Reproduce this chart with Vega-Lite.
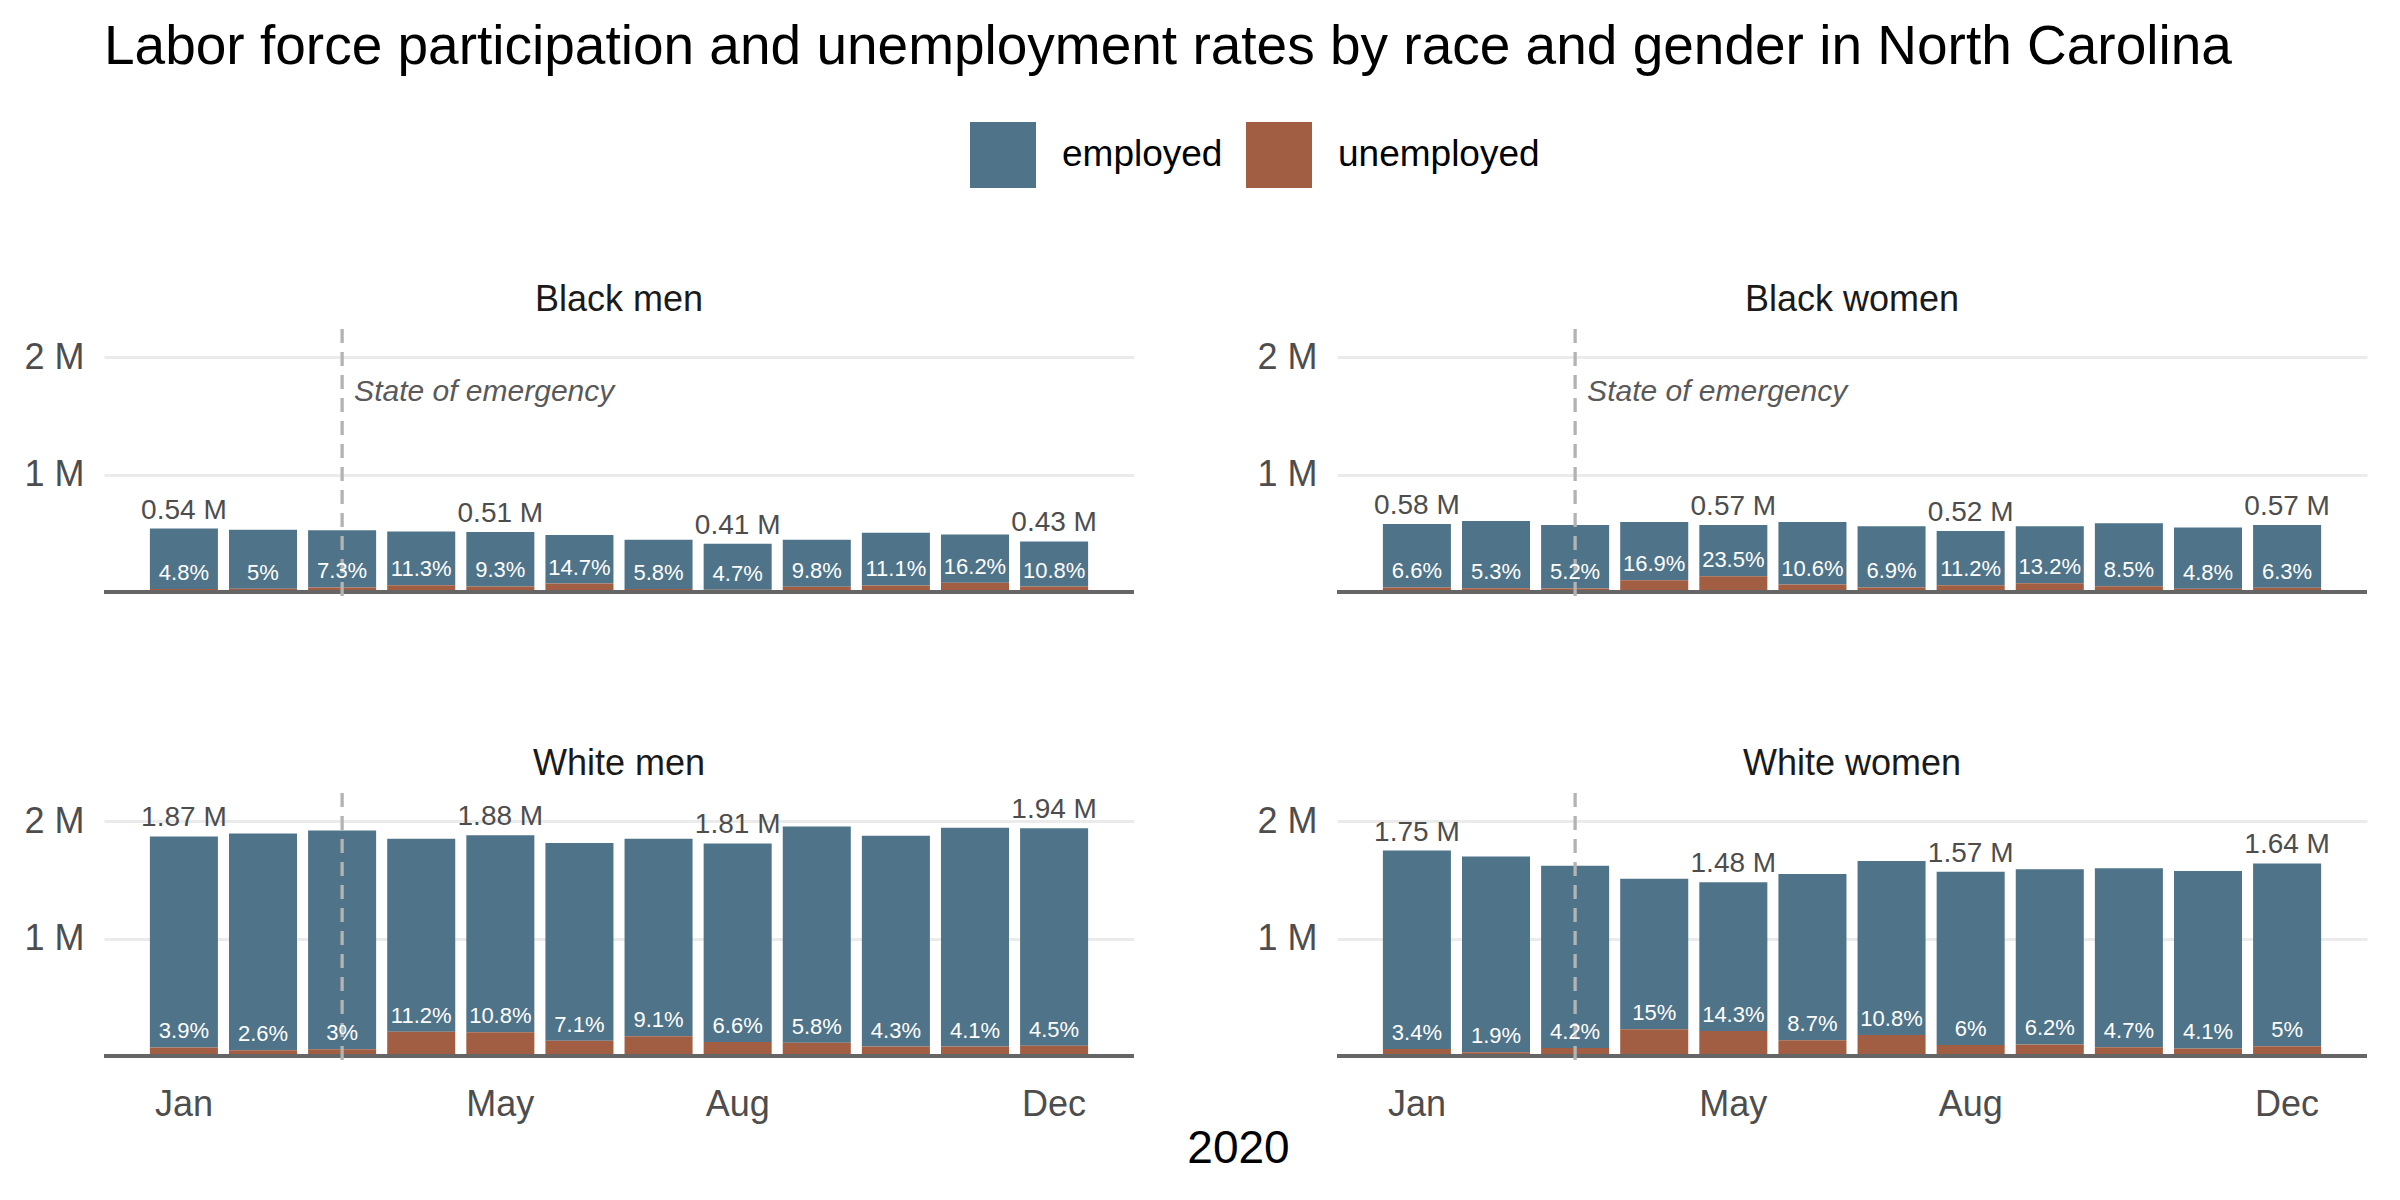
{
  "$schema": "https://vega.github.io/schema/vega-lite/v6.json",
  "background": "white",
  "padding": {"left": 23, "top": 20, "right": 20, "bottom": 10},
  "title": {
    "text": "Labor force participation and unemployment rates by race and gender in North Carolina",
    "anchor": "start",
    "frame": "group",
    "font": "Liberation Sans",
    "fontSize": 55,
    "fontWeight": "normal",
    "color": "black",
    "offset": 46
  },
  "config": {
    "view": {"stroke": null},
    "font": "Liberation Sans",
    "legend": {
      "orient": "none",
      "legendX": 866,
      "legendY": -207,
      "direction": "horizontal",
      "title": null,
      "symbolType": "square",
      "symbolSize": 4356,
      "symbolStrokeWidth": 0,
      "labelFontSize": 37,
      "labelColor": "black",
      "labelLimit": 0,
      "labelOffset": 26,
      "columnPadding": 23
    }
  },
  "datasets": {
    "labor": [
      {"group": "Black men", "month": "Jan", "employed": 0.5141, "unemployed": 0.0259, "total": 0.54, "rate": 0.048, "label": "0.54 M"},
      {"group": "Black men", "month": "Feb", "employed": 0.5035, "unemployed": 0.0265, "total": 0.53, "rate": 0.05},
      {"group": "Black men", "month": "Mar", "employed": 0.4867, "unemployed": 0.0383, "total": 0.525, "rate": 0.073},
      {"group": "Black men", "month": "Apr", "employed": 0.4568, "unemployed": 0.0582, "total": 0.515, "rate": 0.113},
      {"group": "Black men", "month": "May", "employed": 0.4626, "unemployed": 0.0474, "total": 0.51, "rate": 0.093, "label": "0.51 M"},
      {"group": "Black men", "month": "Jun", "employed": 0.4137, "unemployed": 0.0713, "total": 0.485, "rate": 0.147},
      {"group": "Black men", "month": "Jul", "employed": 0.4192, "unemployed": 0.0258, "total": 0.445, "rate": 0.058},
      {"group": "Black men", "month": "Aug", "employed": 0.3907, "unemployed": 0.0193, "total": 0.41, "rate": 0.047, "label": "0.41 M"},
      {"group": "Black men", "month": "Sep", "employed": 0.4014, "unemployed": 0.0436, "total": 0.445, "rate": 0.098},
      {"group": "Black men", "month": "Oct", "employed": 0.4489, "unemployed": 0.0561, "total": 0.505, "rate": 0.111},
      {"group": "Black men", "month": "Nov", "employed": 0.4106, "unemployed": 0.0794, "total": 0.49, "rate": 0.162},
      {"group": "Black men", "month": "Dec", "employed": 0.3836, "unemployed": 0.0464, "total": 0.43, "rate": 0.108, "label": "0.43 M"},
      {"group": "Black women", "month": "Jan", "employed": 0.5417, "unemployed": 0.0383, "total": 0.58, "rate": 0.066, "label": "0.58 M"},
      {"group": "Black women", "month": "Feb", "employed": 0.5729, "unemployed": 0.0321, "total": 0.605, "rate": 0.053},
      {"group": "Black women", "month": "Mar", "employed": 0.5404, "unemployed": 0.0296, "total": 0.57, "rate": 0.052},
      {"group": "Black women", "month": "Apr", "employed": 0.4944, "unemployed": 0.1006, "total": 0.595, "rate": 0.169},
      {"group": "Black women", "month": "May", "employed": 0.436, "unemployed": 0.134, "total": 0.57, "rate": 0.235, "label": "0.57 M"},
      {"group": "Black women", "month": "Jun", "employed": 0.5319, "unemployed": 0.0631, "total": 0.595, "rate": 0.106},
      {"group": "Black women", "month": "Jul", "employed": 0.5214, "unemployed": 0.0386, "total": 0.56, "rate": 0.069},
      {"group": "Black women", "month": "Aug", "employed": 0.4618, "unemployed": 0.0582, "total": 0.52, "rate": 0.112, "label": "0.52 M"},
      {"group": "Black women", "month": "Sep", "employed": 0.4861, "unemployed": 0.0739, "total": 0.56, "rate": 0.132},
      {"group": "Black women", "month": "Oct", "employed": 0.5353, "unemployed": 0.0497, "total": 0.585, "rate": 0.085},
      {"group": "Black women", "month": "Nov", "employed": 0.5236, "unemployed": 0.0264, "total": 0.55, "rate": 0.048},
      {"group": "Black women", "month": "Dec", "employed": 0.5341, "unemployed": 0.0359, "total": 0.57, "rate": 0.063, "label": "0.57 M"},
      {"group": "White men", "month": "Jan", "employed": 1.7971, "unemployed": 0.0729, "total": 1.87, "rate": 0.039, "label": "1.87 M"},
      {"group": "White men", "month": "Feb", "employed": 1.8457, "unemployed": 0.0493, "total": 1.895, "rate": 0.026},
      {"group": "White men", "month": "Mar", "employed": 1.8624, "unemployed": 0.0576, "total": 1.92, "rate": 0.03},
      {"group": "White men", "month": "Apr", "employed": 1.6428, "unemployed": 0.2072, "total": 1.85, "rate": 0.112},
      {"group": "White men", "month": "May", "employed": 1.677, "unemployed": 0.203, "total": 1.88, "rate": 0.108, "label": "1.88 M"},
      {"group": "White men", "month": "Jun", "employed": 1.6861, "unemployed": 0.1289, "total": 1.815, "rate": 0.071},
      {"group": "White men", "month": "Jul", "employed": 1.6816, "unemployed": 0.1684, "total": 1.85, "rate": 0.091},
      {"group": "White men", "month": "Aug", "employed": 1.6905, "unemployed": 0.1195, "total": 1.81, "rate": 0.066, "label": "1.81 M"},
      {"group": "White men", "month": "Sep", "employed": 1.8416, "unemployed": 0.1134, "total": 1.955, "rate": 0.058},
      {"group": "White men", "month": "Oct", "employed": 1.7944, "unemployed": 0.0806, "total": 1.875, "rate": 0.043},
      {"group": "White men", "month": "Nov", "employed": 1.8653, "unemployed": 0.0797, "total": 1.945, "rate": 0.041},
      {"group": "White men", "month": "Dec", "employed": 1.8527, "unemployed": 0.0873, "total": 1.94, "rate": 0.045, "label": "1.94 M"},
      {"group": "White women", "month": "Jan", "employed": 1.6905, "unemployed": 0.0595, "total": 1.75, "rate": 0.034, "label": "1.75 M"},
      {"group": "White women", "month": "Feb", "employed": 1.6677, "unemployed": 0.0323, "total": 1.7, "rate": 0.019},
      {"group": "White women", "month": "Mar", "employed": 1.552, "unemployed": 0.068, "total": 1.62, "rate": 0.042},
      {"group": "White women", "month": "Apr", "employed": 1.2835, "unemployed": 0.2265, "total": 1.51, "rate": 0.15},
      {"group": "White women", "month": "May", "employed": 1.2684, "unemployed": 0.2116, "total": 1.48, "rate": 0.143, "label": "1.48 M"},
      {"group": "White women", "month": "Jun", "employed": 1.4151, "unemployed": 0.1349, "total": 1.55, "rate": 0.087},
      {"group": "White women", "month": "Jul", "employed": 1.4807, "unemployed": 0.1793, "total": 1.66, "rate": 0.108},
      {"group": "White women", "month": "Aug", "employed": 1.4758, "unemployed": 0.0942, "total": 1.57, "rate": 0.06, "label": "1.57 M"},
      {"group": "White women", "month": "Sep", "employed": 1.4914, "unemployed": 0.0986, "total": 1.59, "rate": 0.062},
      {"group": "White women", "month": "Oct", "employed": 1.5248, "unemployed": 0.0752, "total": 1.6, "rate": 0.047},
      {"group": "White women", "month": "Nov", "employed": 1.5104, "unemployed": 0.0646, "total": 1.575, "rate": 0.041},
      {"group": "White women", "month": "Dec", "employed": 1.558, "unemployed": 0.082, "total": 1.64, "rate": 0.05, "label": "1.64 M"}
    ],
    "year": [{"year": "2020"}]
  },
  "vconcat": [
    {
      "data": {"name": "labor"},
      "columns": 2,
      "spacing": {"column": 120, "row": 141},
      "facet": {
        "field": "group",
        "type": "nominal",
        "sort": ["Black men", "Black women", "White men", "White women"],
        "header": {
          "title": null,
          "labelFontSize": 36,
          "labelColor": "#1A1A1A",
          "labelPadding": 8
        }
      },
      "resolve": {"axis": {"y": "independent"}},
      "spec": {
        "width": 1030,
        "height": 274,
        "encoding": {
          "x": {
            "field": "month",
            "type": "ordinal",
            "sort": ["Jan", "Feb", "Mar", "Apr", "May", "Jun", "Jul", "Aug", "Sep", "Oct", "Nov", "Dec"],
            "scale": {"paddingInner": 0.14, "paddingOuter": 0.58},
            "axis": {
              "title": null,
              "values": ["Jan", "May", "Aug", "Dec"],
              "labelAngle": 0,
              "labelFontSize": 36,
              "labelColor": "#4D4D4D",
              "labelPadding": 18,
              "ticks": false,
              "domain": false,
              "grid": false
            }
          }
        },
        "layer": [
          {
            "transform": [{"fold": ["employed", "unemployed"], "as": ["status", "count"]}],
            "mark": {"type": "bar"},
            "encoding": {
              "y": {
                "field": "count",
                "type": "quantitative",
                "stack": "zero",
                "scale": {"domain": [-0.094, 2.24], "nice": false},
                "axis": {
                  "title": null,
                  "values": [1, 2],
                  "labelExpr": "datum.value + ' M'",
                  "labelFontSize": 36,
                  "labelColor": "#4D4D4D",
                  "labelPadding": 20,
                  "ticks": false,
                  "domain": false,
                  "grid": true,
                  "gridColor": "#EBEBEB",
                  "gridWidth": 3
                }
              },
              "color": {
                "field": "status",
                "type": "nominal",
                "scale": {"domain": ["employed", "unemployed"], "range": ["#4F7489", "#A15E42"]}
              },
              "order": {"field": "status", "sort": "descending"}
            }
          },
          {
            "mark": {"type": "rule", "color": "#666666", "strokeWidth": 3.5},
            "encoding": {"y": {"datum": 0, "type": "quantitative"}, "x": null}
          },
          {
            "transform": [{"filter": "datum.month == 'Mar'"}],
            "mark": {"type": "rule", "color": "#B3B3B3", "strokeWidth": 3.3, "strokeDash": [14, 9]},
            "encoding": {}
          },
          {
            "transform": [{"filter": "datum.month == 'Mar' && (datum.group == 'Black men' || datum.group == 'Black women')"}],
            "mark": {"type": "text", "text": "State of emergency", "align": "left", "baseline": "middle", "dx": 12, "fontSize": 30, "fontStyle": "italic", "color": "#595959"},
            "encoding": {"y": {"datum": 1.7, "type": "quantitative"}}
          },
          {
            "transform": [{"filter": "isValid(datum.label)"}],
            "mark": {"type": "text", "baseline": "alphabetic", "dy": -10, "fontSize": 28, "color": "#4D4D4D"},
            "encoding": {
              "y": {"field": "total", "type": "quantitative"},
              "text": {"field": "label"}
            }
          },
          {
            "mark": {"type": "text", "baseline": "alphabetic", "dy": -9, "fontSize": 22, "color": "white"},
            "encoding": {
              "y": {"field": "unemployed", "type": "quantitative"},
              "text": {"field": "rate", "type": "quantitative", "format": ".1~%"}
            }
          }
        ]
      }
    },
    {
      "data": {"name": "year"},
      "width": 2335,
      "height": 40,
      "mark": {"type": "text", "fontSize": 46, "color": "black", "dx": -33},
      "encoding": {"text": {"field": "year"}}
    }
  ],
  "spacing": 4
}
